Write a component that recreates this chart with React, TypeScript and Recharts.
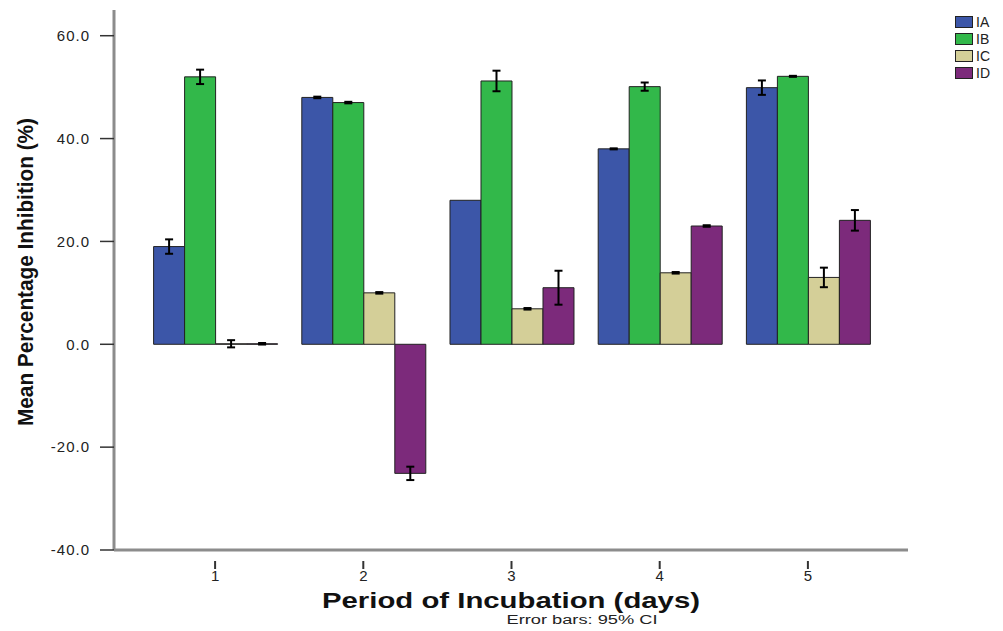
import React from 'react';
import { BarChart, Bar, XAxis, YAxis, ErrorBar, Legend } from 'recharts';

const days = ['1', '2', '3', '4', '5'];
const seriesNames = ['IA', 'IB', 'IC', 'ID'];
const seriesColors = ['#3c56a8', '#32b84a', '#d4cf98', '#7c2a7b'];
const iaMean = [19.0, 48.0, 28.0, 38.0, 49.9];
const iaErr = [1.4, 0.15, 0, 0.1, 1.4];
const ibMean = [52.0, 47.0, 51.2, 50.1, 52.1];
const ibErr = [1.4, 0.15, 2.0, 0.8, 0.1];
const icMean = [0.1, 10.0, 6.9, 13.9, 13.0];
const icErr = [0.7, 0.15, 0.15, 0.15, 1.9];
const idMean = [0.1, -25.1, 11.0, 23.0, 24.1];
const idErr = [0.15, 1.3, 3.3, 0.15, 2.0];
const yTicks = [-40, -20, 0, 20, 40, 60];

const data = days.map((d, i) => ({
  day: d,
  IA: iaMean[i], IAerr: iaErr[i],
  IB: ibMean[i], IBerr: ibErr[i],
  IC: icMean[i], ICerr: icErr[i],
  ID: idMean[i], IDerr: idErr[i],
}));

const XTick = (props: any) => {
  const { x, y, payload } = props;
  return (
    <g>
      <line x1={x} x2={x} y1={y + 11} y2={y + 19} stroke="#333" strokeWidth={2} />
      <text x={x} y={y + 31} textAnchor="middle" fontFamily="Arial, 'Liberation Sans', sans-serif" fontSize={15} fill="#222">
        {payload.value}
      </text>
    </g>
  );
};

const LegendContent = (props: any) => {
  const { payload } = props;
  return (
    <div style={{ position: 'relative' }}>
      {(payload || []).map((entry: any, i: number) => (
        <div key={i} style={{ position: 'absolute', left: 0, top: i * 17, height: 14, display: 'flex', alignItems: 'center' }}>
          <div style={{ width: 18, height: 12, background: entry.color, border: '1px solid #222', boxSizing: 'border-box' }} />
          <span style={{ marginLeft: 3, fontFamily: "Arial, 'Liberation Sans', sans-serif", fontSize: 14, color: '#222', lineHeight: '14px' }}>
            {entry.value}
          </span>
        </div>
      ))}
    </div>
  );
};

export default function App() {
  return (
    <div style={{ position: 'absolute', left: 0, top: 0, width: 1003, height: 631, background: '#fff' }}>
      <BarChart
        width={1003}
        height={631}
        data={data}
        margin={{ top: 10, right: 95, left: 0, bottom: 0 }}
        barCategoryGap="8.5%"
        barGap={0}
      >
        <XAxis
          dataKey="day"
          padding={{ left: 27, right: 26 }}
          axisLine={{ stroke: '#8c8c8c', strokeWidth: 3 }}
          tickLine={false}
          tickSize={0}
          tickMargin={0}
          height={81}
          tick={<XTick />}
          interval={0}
        />
        <YAxis
          type="number"
          domain={[-40, 65]}
          ticks={yTicks}
          width={114}
          tickFormatter={(v: number) => v.toFixed(1)}
          axisLine={{ stroke: '#8c8c8c', strokeWidth: 3 }}
          tickLine={{ stroke: '#333', strokeWidth: 1.5 }}
          tickSize={14}
          tickMargin={10}
          tick={{ fontFamily: "Arial, 'Liberation Sans', sans-serif", fontSize: 15, fill: '#222', letterSpacing: 1 }}
          allowDataOverflow
        />
        <Legend
          verticalAlign="middle"
          align="center"
          layout="horizontal"
          content={<LegendContent />}
          wrapperStyle={{ position: 'absolute', left: 955, top: 15, width: 48, height: 70 }}
        />
        {seriesNames.map((name, i) => (
          <Bar
            key={name}
            dataKey={name}
            name={name}
            fill={seriesColors[i]}
            stroke="#222"
            strokeWidth={1}
            isAnimationActive={false}
          >
            <ErrorBar dataKey={name + 'err'} width={4} stroke="#000" strokeWidth={2} direction="y" />
          </Bar>
        ))}
        <text
          x={25}
          y={272}
          transform="rotate(-90 25 272)"
          textAnchor="middle"
          dominantBaseline="central"
          fontFamily="Arial, 'Liberation Sans', sans-serif"
          fontWeight="bold"
          fontSize={22}
          fill="#111"
          textLength={308}
          lengthAdjust="spacingAndGlyphs"
        >
          Mean Percentage Inhibition (%)
        </text>
        <text
          x={511}
          y={600}
          textAnchor="middle"
          dominantBaseline="central"
          fontFamily="Arial, 'Liberation Sans', sans-serif"
          fontWeight="bold"
          fontSize={22}
          fill="#111"
          textLength={378}
          lengthAdjust="spacingAndGlyphs"
        >
          Period of Incubation (days)
        </text>
        <text
          x={582}
          y={620}
          textAnchor="middle"
          dominantBaseline="central"
          fontFamily="Arial, 'Liberation Sans', sans-serif"
          fontSize={12}
          fill="#222"
          textLength={151}
          lengthAdjust="spacingAndGlyphs"
        >
          Error bars: 95% CI
        </text>
      </BarChart>
    </div>
  );
}
